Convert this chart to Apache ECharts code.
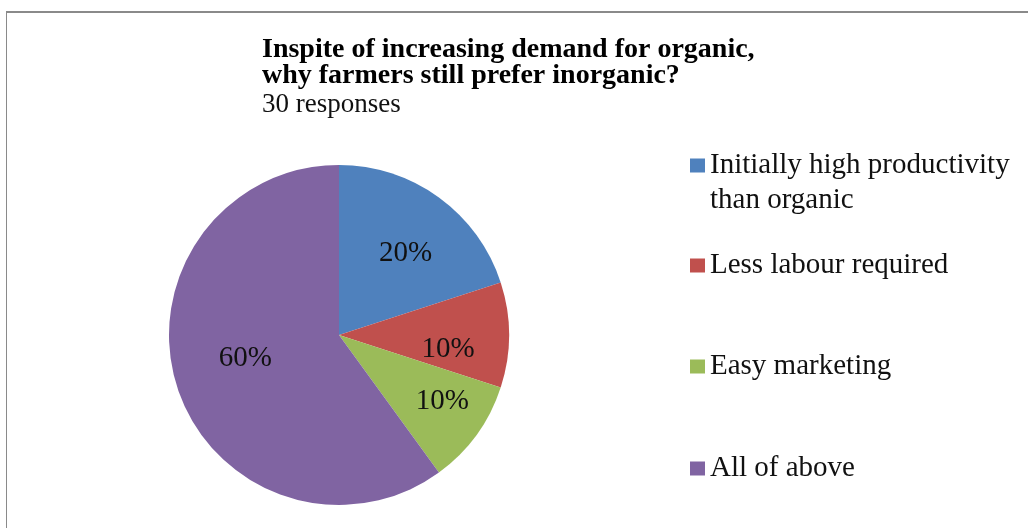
<!DOCTYPE html>
<html>
<head>
<meta charset="utf-8">
<script src="https://cdn.jsdelivr.net/npm/echarts@6/dist/echarts.min.js"></script>
<style>
  html, body { margin: 0; padding: 0; background: #fff; }
  #chart { width: 1028px; height: 528px; }
</style>
</head>
<body>
<div id="chart"></div>
<script>
// 数据
const categories = ['Initially high productivity\nthan organic', 'Less labour required', 'Easy marketing', 'All of above']
const percents = [20, 10, 10, 60]
const colors = ['#4f81bd', '#c0504d', '#9bbb59', '#8064a2']
const legendTops = [108, 243, 344, 446]

const font = '"Liberation Serif", "DejaVu Serif", serif'

const pieData = categories.map((name, i) => ({
  name: name,
  value: percents[i],
  itemStyle: { color: colors[i] }
}))

// 标签层：透明饼图，让标签离圆心更远（接近原图）
const labelOffsets = [[3, 6], [1, 14], [16, 3], [9, -10]]
const labelData = categories.map((name, i) => ({
  name: name,
  value: percents[i],
  label: { offset: labelOffsets[i] }
}))

// 每个图例单独定位
// 第一项两行：前面加一个空行，让色块对齐第一行
const legends = categories.map((name, i) => ({
  orient: 'vertical',
  left: 685,
  top: legendTops[i],
  itemWidth: 15,
  itemHeight: 14,
  itemGap: 0,
  icon: 'rect',
  selectedMode: false,
  data: [name],
  formatter: i === 0 ? (n => '\n' + n) : '{name}',
  textStyle: {
    fontFamily: font,
    fontSize: 29,
    color: '#111',
    lineHeight: 35
  }
}))

const chart = echarts.init(document.getElementById('chart'))
chart.setOption({
  animation: false,
  backgroundColor: '#fff',
  title: {
    text: 'Inspite of increasing demand for organic,\nwhy farmers still prefer inorganic?',
    subtext: '30 responses',
    left: 257,
    top: 32,
    itemGap: 0,
    textStyle: {
      fontFamily: font,
      fontWeight: 'bold',
      fontSize: 28,
      lineHeight: 26,
      color: '#000'
    },
    subtextStyle: {
      fontFamily: font,
      fontSize: 27,
      lineHeight: 27,
      color: '#111'
    }
  },
  legend: legends,
  graphic: [
    { type: 'line', shape: { x1: 6, y1: 12, x2: 1028, y2: 12 }, style: { stroke: '#8a8a8a', lineWidth: 2 } },
    { type: 'line', shape: { x1: 6.5, y1: 12, x2: 6.5, y2: 528 }, style: { stroke: '#8a8a8a', lineWidth: 1 } }
  ],
  series: [
    {
      type: 'pie',
      center: [339, 335],
      radius: [0, 170],
      startAngle: 90,
      clockwise: true,
      label: { show: false },
      labelLine: { show: false },
      emphasis: { disabled: true },
      data: pieData
    },
    {
      type: 'pie',
      center: [339, 335],
      radius: [40, 170],
      startAngle: 90,
      clockwise: true,
      silent: true,
      itemStyle: { color: 'transparent' },
      label: {
        show: true,
        position: 'inside',
        formatter: '{c}%',
        fontFamily: font,
        fontSize: 29,
        color: '#111'
      },
      labelLine: { show: false },
      data: labelData
    }
  ]
})
</script>
</body>
</html>
